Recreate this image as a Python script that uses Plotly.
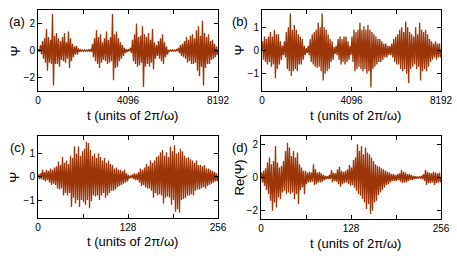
import numpy as np
import plotly.graph_objects as go

# ---- data: per-bin upper / lower envelope of the oscillating signal ----
a_hi = [0.1,0.4,0.7,0.9,1.6,1.0,0.8,2.7,1.1,1.3,0.9,0.7,1.0,1.3,0.6,1.4,0.9,0.5,0.3,0.35,
        0.15,0.05,0.04,0.05,0.04,0.05,0.1,0.5,0.9,1.5,1.0,1.2,0.6,0.9,1.4,0.8,1.0,2.7,1.2,1.4,
        0.9,0.6,0.4,0.2,0.1,0.05,0.2,0.8,1.2,2.0,1.0,1.1,1.8,1.2,1.0,1.3,0.8,1.6,0.6,0.4,
        0.7,0.9,1.2,0.6,0.3,0.05,0.04,0.05,0.04,0.06,0.2,0.4,0.5,0.7,1.0,0.8,1.1,1.2,0.9,1.5,
        1.8,1.1,2.2,1.3,1.0,1.2,0.7,0.8,0.5,0.3]
a_lo = [-0.1,-0.3,-0.6,-0.9,-1.5,-0.9,-1.0,-2.6,-1.0,-1.0,-1.2,-0.7,-0.8,-0.9,-0.6,-1.3,-0.8,-0.5,-0.3,-0.3,
        -0.1,-0.05,-0.05,-0.05,-0.05,-0.05,-0.1,-0.5,-0.8,-1.0,-1.3,-0.9,-0.7,-0.8,-1.0,-0.9,-0.8,-2.2,-1.3,-1.2,
        -0.8,-0.6,-0.4,-0.2,-0.1,-0.05,-0.2,-0.8,-1.0,-1.2,-1.1,-0.9,-2.7,-1.2,-1.0,-1.2,-0.9,-1.4,-0.6,-0.4,
        -0.6,-0.8,-1.0,-0.5,-0.3,-0.05,-0.05,-0.05,-0.05,-0.05,-0.2,-0.4,-0.5,-0.6,-0.9,-0.8,-1.0,-1.0,-0.9,-1.5,
        -1.9,-1.2,-2.6,-1.3,-1.0,-1.0,-0.7,-0.6,-0.5,-0.3]

b_hi = [0.4,0.6,0.5,0.6,0.8,0.6,0.9,0.7,0.7,0.4,0.2,0.4,0.8,1.0,1.6,0.9,1.1,0.9,0.7,0.6,
        0.5,0.2,0.1,0.2,0.5,0.7,0.8,0.9,1.2,1.0,1.6,1.0,0.9,0.7,0.5,0.4,0.15,0.2,0.5,0.6,
        0.5,0.6,0.6,0.4,0.2,0.6,0.9,0.8,0.9,1.2,0.9,1.05,0.9,1.1,0.9,0.8,0.7,0.6,0.5,0.5,
        0.4,0.3,0.3,0.2,0.2,0.3,0.5,0.6,0.7,0.9,1.0,0.8,1.25,1.0,0.8,0.7,0.6,1.0,0.7,1.2,
        0.9,0.8,0.9,0.7,0.5,0.4,0.3,0.4,0.3,0.3]
b_lo = [-0.4,-0.5,-0.6,-0.5,-0.7,-0.6,-1.2,-0.8,-0.6,-0.4,-0.2,-0.3,-0.8,-0.9,-1.1,-0.9,-0.8,-0.9,-0.6,-0.6,
        -0.4,-0.2,-0.1,-0.2,-0.5,-0.6,-0.7,-0.75,-0.7,-0.9,-1.3,-1.0,-0.9,-0.8,-0.5,-0.4,-0.15,-0.2,-0.4,-0.6,
        -0.5,-0.6,-0.5,-0.4,-0.2,-0.5,-0.9,-0.8,-0.7,-0.8,-0.9,-0.8,-1.0,-0.9,-1.6,-0.8,-0.7,-0.6,-0.5,-0.5,
        -0.4,-0.3,-0.3,-0.2,-0.2,-0.3,-0.5,-0.6,-0.6,-0.8,-0.9,-0.8,-1.0,-1.4,-0.8,-0.7,-0.6,-0.8,-0.7,-1.3,
        -0.9,-0.8,-0.9,-0.7,-0.5,-0.4,-0.3,-0.4,-0.3,-0.3]

c_hi = [0.1,0.15,0.3,0.2,0.3,0.25,0.35,0.3,0.4,0.45,0.65,0.5,0.85,0.6,0.7,0.55,0.9,0.8,1.3,1.0,
        1.3,0.9,1.1,1.2,1.5,1.45,1.15,0.9,1.0,0.8,1.0,0.85,0.7,0.8,0.6,0.7,0.55,0.5,0.35,0.4,
        0.3,0.3,0.25,0.3,0.15,0.08,0.05,0.1,0.15,0.12,0.2,0.35,0.3,0.4,0.55,0.45,0.7,0.6,0.7,0.85,
        0.9,1.05,1.15,0.9,1.05,0.85,1.3,1.1,1.35,1.0,1.05,1.2,1.1,0.9,0.8,0.85,0.75,0.7,0.6,0.7,
        0.5,0.5,0.45,0.5,0.35,0.35,0.3,0.25,0.2,0.15]
c_lo = [-0.1,-0.1,-0.15,-0.2,-0.15,-0.25,-0.35,-0.3,-0.35,-0.5,-0.55,-0.5,-0.8,-0.7,-0.8,-0.7,-1.3,-0.9,-1.15,-1.0,
        -1.3,-1.0,-1.1,-1.2,-1.0,-1.35,-1.05,-0.8,-0.85,-0.8,-1.0,-0.8,-0.7,-0.9,-0.8,-0.7,-0.6,-0.6,-0.55,-0.45,
        -0.4,-0.35,-0.3,-0.25,-0.2,-0.08,-0.05,-0.1,-0.15,-0.15,-0.25,-0.4,-0.35,-0.45,-0.5,-0.5,-0.6,-0.9,-0.7,-0.8,
        -0.75,-0.8,-1.15,-0.9,-0.85,-0.9,-1.2,-1.0,-1.5,-1.4,-1.55,-1.0,-0.95,-0.9,-0.8,-0.8,-0.75,-0.8,-0.6,-0.55,
        -0.55,-0.5,-0.45,-0.5,-0.4,-0.35,-0.3,-0.25,-0.2,-0.2]

d_hi = [0.3,0.4,0.55,0.9,1.2,0.8,1.0,1.9,0.9,0.6,0.7,1.0,1.6,2.1,1.8,1.3,1.6,1.2,1.5,0.8,
        0.6,0.4,0.4,0.3,0.35,0.3,0.8,0.5,0.3,0.35,0.25,0.15,0.1,0.08,0.15,0.45,0.3,0.25,0.5,0.65,
        0.4,0.35,0.4,0.5,0.75,0.6,1.05,1.2,2.0,1.6,1.9,1.4,1.8,1.5,1.4,1.2,1.0,0.8,0.7,0.65,
        0.55,0.5,0.4,0.35,0.3,0.2,0.2,0.15,0.2,0.25,0.45,0.35,0.3,0.2,0.2,0.15,0.1,0.08,0.06,0.06,
        0.1,0.2,0.45,0.35,0.3,0.25,0.35,0.3,0.25,0.3]
d_lo = [-0.3,-0.5,-0.75,-1.0,-1.4,-2.0,-1.5,-1.8,-1.2,-1.3,-0.9,-0.8,-1.0,-0.9,-1.0,-0.9,-1.3,-1.0,-1.6,-0.75,
        -0.6,-1.0,-0.4,-0.3,-0.3,-0.25,-0.45,-0.4,-0.3,-0.3,-0.25,-0.15,-0.1,-0.08,-0.1,-0.3,-0.2,-0.25,-0.4,-0.55,
        -0.4,-0.35,-0.3,-0.4,-0.5,-0.45,-0.6,-0.8,-1.0,-1.1,-1.3,-1.5,-1.9,-1.6,-2.2,-2.0,-1.5,-1.4,-1.05,-0.9,
        -0.75,-0.6,-0.45,-0.4,-0.3,-0.2,-0.2,-0.2,-0.15,-0.25,-0.35,-0.3,-0.3,-0.2,-0.15,-0.15,-0.1,-0.08,-0.06,-0.06,
        -0.1,-0.2,-0.45,-0.35,-0.35,-0.3,-0.45,-0.35,-0.3,-0.3]

t_max = {"a": 8192, "b": 8192, "c": 256, "d": 256}
x_ticks = {"a": [0, 2048, 4096, 6144, 8192], "b": [0, 2048, 4096, 6144, 8192],
           "c": [0, 64, 128, 192, 256], "d": [0, 64, 128, 192, 256]}
x_ticktext = {"a": ["0", "", "4096", "", "8192"], "b": ["0", "", "4096", "", "8192"],
              "c": ["0", "", "128", "", "256"], "d": ["0", "", "128", "", "256"]}
y_ticks = {"a": [-2, 0, 2], "b": [-1, 0, 1], "c": [-1, 0, 1], "d": [-2, 0, 2]}
y_range = {"a": [-3, 3], "b": [-1.75, 1.75], "c": [-1.75, 1.75], "d": [-2.5, 2.5]}
y_titles = {"a": "Ψ", "b": "Ψ", "c": "Ψ", "d": "Re(Ψ)"}
series = {"a": (a_hi, a_lo), "b": (b_hi, b_lo), "c": (c_hi, c_lo), "d": (d_hi, d_lo)}

W, H = 457, 258
# pixel boxes (left, right, top, bottom)
boxes = {"a": (38, 218, 10, 91), "b": (262, 441, 10, 91),
         "c": (38, 218, 136, 217.5), "d": (261, 441, 136, 219)}

LINE = "#9c3508"
FONT = "Liberation Sans, Arial"
fig = go.Figure()
annotations = []
for i, k in enumerate(["a", "b", "c", "d"]):
    hi, lo = series[k]
    n = len(hi)
    T = t_max[k]
    step = T / n
    ts, vs = [], []
    for j in range(n):
        ts += [j * step + 0.25 * step, j * step + 0.75 * step]
        vs += [hi[j], lo[j]]
    ts = [0] + ts + [T]
    vs = [0] + vs + [0]
    xa = "x" if i == 0 else f"x{i+1}"
    ya = "y" if i == 0 else f"y{i+1}"
    fig.add_trace(go.Scatter(x=ts, y=vs, mode="lines", xaxis=xa, yaxis=ya,
                             line=dict(color=LINE, width=1.3), showlegend=False,
                             hoverinfo="skip"))
    l, r, t, b = boxes[k]
    axk = "" if i == 0 else str(i + 1)
    common = dict(showline=True, linecolor="black", linewidth=1, mirror="ticks",
                  ticks="inside", ticklen=4, tickcolor="black", showgrid=False,
                  zeroline=False, automargin=False,
                  tickfont=dict(family=FONT, size=10, color="black"))
    fig.layout["xaxis" + axk] = dict(domain=[l / W, r / W], anchor="y" + axk,
                                     range=[0, T], tickvals=x_ticks[k], ticktext=x_ticktext[k],
                                     **common)
    fig.layout["yaxis" + axk] = dict(domain=[1 - b / H, 1 - t / H], anchor="x" + axk,
                                     range=y_range[k], tickvals=y_ticks[k], **common)
    # x title
    annotations.append(dict(x=((l + r) / 2 + 4) / W, y=1 - (b + 24) / H, xref="paper", yref="paper",
                            text="t (units of 2π/ω)", showarrow=False,
                            font=dict(family=FONT, size=13, color="black"),
                            xanchor="center", yanchor="middle"))
    # y title
    ytx = 15 if l < 100 else 239
    annotations.append(dict(x=ytx / W, y=1 - ((t + b) / 2) / H, xref="paper", yref="paper",
                            text=y_titles[k], showarrow=False, textangle=-90,
                            font=dict(family=FONT, size=13, color="black"),
                            xanchor="center", yanchor="middle"))
    # panel label
    plx = 17 if l < 100 else 240
    annotations.append(dict(x=plx / W, y=1 - (t + 11) / H, xref="paper", yref="paper",
                            text=f"({k})", showarrow=False,
                            font=dict(family=FONT, size=13, color="black"),
                            xanchor="center", yanchor="middle"))

fig.update_layout(width=W, height=H, margin=dict(l=0, r=0, t=0, b=0),
                  paper_bgcolor="white", plot_bgcolor="white",
                  annotations=annotations)
fig.write_html("out.html", config={"displayModeBar": False, "staticPlot": True},
               post_script="document.body.style.margin='0';document.body.style.overflow='hidden';")
